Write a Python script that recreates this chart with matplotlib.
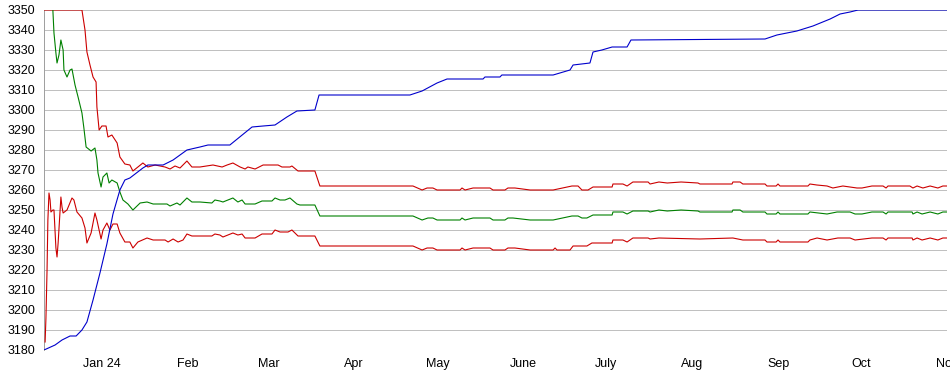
import matplotlib
matplotlib.use("Agg")
import matplotlib.pyplot as plt

# x = days since 11 Dec 2023
month_ticks = [21, 52, 81, 112, 142, 173, 203, 234, 265, 295, 326]
month_labels = ["Jan 24", "Feb", "Mar", "Apr", "May", "June", "July", "Aug", "Sep", "Oct", "Nov"]
y_ticks = list(range(3180, 3351, 10))

blue_x = [0, 4.0, 6.5, 9.4, 11.6, 13.7, 15.5, 17.7, 20.2, 22.7, 24.9, 27.4, 29.2, 31.0, 35.7, 37.5,
          43.0, 46.6, 51.6, 56.3, 59.2, 67.1, 75.1, 79.1, 83.4, 87.7, 91.3, 97.8, 99.3, 132.1, 136.5,
          141.9, 145.5, 158.5, 159.2, 164.6, 165.3, 183.8, 189.9, 191.0, 197.1, 198.2, 201.4, 205.1,
          210.5, 211.9, 260.3, 264.6, 271.8, 277.6, 283.8, 287.4, 291.0, 293.9, 326]
blue_y = [3180, 3182.5, 3185, 3187, 3187, 3190, 3194, 3205, 3218.5, 3233, 3248, 3260, 3265, 3266,
          3271, 3272.5, 3272.5, 3275, 3280, 3281.5, 3282.5, 3282.5, 3291.5, 3292, 3292.5, 3296.5,
          3299.5, 3300, 3307.5, 3307.5, 3309.5, 3313.5, 3315.5, 3315.5, 3316.5, 3316.5, 3317.5,
          3317.5, 3320, 3322.5, 3323.5, 3329, 3330, 3331.5, 3331.5, 3335, 3335.5, 3337.5, 3339.5,
          3342, 3345.5, 3348, 3349, 3350, 3350]

upper_x = [0, 13.7, 14.8, 15.5, 16.6, 17.7, 18.8, 19.1, 19.9, 20.9, 22.4, 23.1, 24.5, 26.4, 27.4,
           29.2, 31.0, 32.1, 35.7, 37.5, 40.1, 43.7, 45.5, 47.3, 49.1, 51.6, 53.4, 56.3, 61.0, 64.3,
           66.1, 68.2, 70.8, 72.6, 73.6, 76.2, 79.1, 84.5, 85.9, 88.8, 89.5, 91.7, 97.8, 99.6, 133.2,
           136.5, 138.3, 140.4, 141.9, 150.2, 150.9, 152.0, 154.9, 161.0, 162.1, 166.4, 167.5, 170.0,
           175.5, 183.8, 190.6, 192.8, 194.2, 196.4, 198.2, 205.1, 205.4, 209.0, 210.5, 212.6, 218.1,
           218.8, 222.0, 225.0, 230.0, 236.1, 236.8, 248.4, 248.7, 251.3, 252.3, 260.3, 261.0, 264.3,
           265.0, 265.7, 275.8, 276.5, 279.0, 282.7, 284.8, 288.4, 293.5, 295.3, 298.9, 302.9, 304.0,
           304.7, 312.6, 313.7, 315.2, 317.3, 319.9, 322.7, 324.5, 326]
upper_y = [3350, 3350, 3340, 3329, 3322.5, 3316.5, 3314, 3301.5, 3290, 3292, 3292, 3286.5, 3287.5,
           3283.5, 3276.5, 3273, 3272.5, 3269.5, 3273.5, 3271.5, 3272.5, 3271.5, 3270.5, 3272, 3271,
           3274.5, 3271.5, 3271.5, 3272.5, 3271.5, 3272.5, 3273.5, 3271.5, 3270.5, 3271.5, 3270.5,
           3272.5, 3272.5, 3271.5, 3271.5, 3272, 3269.5, 3269.5, 3262, 3262, 3260, 3261, 3261, 3260,
           3260, 3261, 3260, 3261, 3261, 3260, 3260, 3261, 3261, 3260, 3260, 3262, 3262, 3260, 3260,
           3261.5, 3261.5, 3263, 3263, 3262, 3264, 3264, 3263, 3264, 3263.5, 3264, 3263.5, 3263, 3263,
           3264, 3264, 3263, 3263, 3262, 3262, 3263, 3262, 3262, 3263, 3262.5, 3262, 3261, 3262, 3261,
           3261, 3262, 3262, 3261, 3262, 3262, 3261, 3262, 3261, 3262, 3261, 3262, 3262]

mid_x = [3.2, 3.6, 4.3, 4.7, 5.4, 6.1, 6.9, 7.2, 8.3, 9.4, 10.1, 11.2, 12.3, 13.7, 14.4, 15.2, 17.0,
         18.4, 19.1, 19.5, 20.6, 21.3, 22.7, 23.5, 24.5, 26.4, 27.4, 28.5, 30.3, 32.1, 34.7, 37.2,
         39.4, 44.4, 45.5, 48.0, 49.1, 51.6, 53.4, 56.3, 60.6, 61.7, 63.5, 64.6, 68.2, 70.0, 71.5,
         72.6, 76.2, 78.7, 82.3, 83.4, 85.2, 87.0, 88.8, 91.3, 92.4, 97.8, 99.6, 133.2, 136.5, 138.6,
         140.4, 141.9, 150.2, 150.9, 152.0, 154.9, 161.0, 162.1, 166.4, 167.5, 169.3, 175.5, 183.8,
         190.6, 192.8, 194.2, 196.0, 198.2, 205.1, 205.4, 209.0, 210.5, 212.6, 218.1, 218.8, 222.0,
         225.0, 230.0, 236.1, 236.8, 248.4, 248.7, 251.3, 252.3, 260.3, 261.0, 264.3, 265.0, 265.7,
         275.8, 276.5, 282.7, 286.3, 291.0, 292.8, 295.3, 298.9, 302.9, 304.0, 304.7, 313.4, 313.7,
         315.2, 317.0, 319.9, 322.7, 324.5, 326]
mid_y = [3350, 3338.5, 3328.5, 3323.5, 3327.5, 3335, 3330, 3320, 3316.5, 3320, 3320.5, 3312.5,
         3306.5, 3298.5, 3291, 3281.5, 3279.5, 3281, 3275, 3268.5, 3261.5, 3266.5, 3268.5, 3263.5,
         3265, 3263.5, 3259, 3255, 3253, 3250, 3253.5, 3254, 3253, 3253, 3252, 3253.5, 3252.5, 3256,
         3254, 3254, 3253.5, 3255, 3254.5, 3254, 3256, 3254, 3255, 3253, 3253, 3254.5, 3254.5, 3256,
         3255, 3255, 3256, 3253, 3252.5, 3252.5, 3247, 3247, 3245, 3246, 3246, 3245, 3245, 3246,
         3245, 3246, 3246, 3245, 3245, 3246, 3246, 3245, 3245, 3247, 3247, 3246, 3246, 3247.5,
         3247.5, 3249, 3249, 3248, 3249.5, 3249.5, 3249, 3250, 3249.5, 3250, 3249.5, 3249, 3249,
         3250, 3250, 3249, 3249, 3248, 3248, 3249, 3248, 3248, 3249, 3248, 3249, 3249, 3248, 3248,
         3249, 3249, 3248, 3249, 3249, 3248, 3249, 3248, 3249, 3248, 3249, 3249]

lower_x = [0.4, 0.7, 1.1, 1.4, 1.8, 2.2, 2.5, 3.2, 3.6, 4.3, 4.7, 5.1, 6.1, 6.5, 6.9, 8.3, 10.1, 10.8,
           11.9, 13.7, 14.8, 15.5, 17.0, 18.4, 19.1, 20.6, 21.3, 22.7, 23.8, 24.9, 26.4, 27.4, 29.2,
           31.0, 32.1, 33.9, 37.2, 39.4, 43.7, 44.8, 46.6, 48.4, 50.2, 51.6, 53.4, 56.3, 60.6, 61.7,
           63.5, 64.6, 68.2, 70.0, 71.5, 72.6, 76.2, 78.7, 82.3, 83.4, 85.2, 88.1, 89.5, 91.7, 97.8,
           99.6, 133.2, 136.5, 138.3, 140.4, 141.9, 150.2, 150.9, 152.0, 154.9, 161.0, 162.1, 166.4,
           167.5, 170.0, 175.5, 183.8, 184.5, 185.2, 189.9, 191.0, 196.0, 197.8, 205.1, 205.4, 209.0,
           210.5, 212.6, 218.1, 218.8, 222.0, 236.8, 248.7, 252.3, 260.3, 261.0, 264.3, 265.0, 265.7,
           275.8, 276.5, 279.1, 282.7, 286.6, 291.0, 292.8, 298.9, 302.9, 304.0, 304.7, 313.4, 313.7,
           315.2, 317.0, 319.9, 322.7, 324.5, 326]
lower_y = [3184, 3196, 3220, 3245, 3258.5, 3255, 3249, 3250, 3250, 3231, 3226.5, 3233.5, 3256.5,
           3251.5, 3248.5, 3250, 3256, 3255, 3249, 3246, 3241, 3233.5, 3238.5, 3248.5, 3245, 3235.5,
           3240, 3243.5, 3240, 3243, 3243, 3238.5, 3234, 3234, 3231, 3234, 3236, 3235, 3235, 3234,
           3235.5, 3234, 3235, 3238, 3237, 3237, 3237, 3238, 3237.5, 3236.5, 3238.5, 3237.5, 3238,
           3236, 3236, 3238, 3238, 3240, 3239, 3239, 3240, 3237, 3237, 3232, 3232, 3230, 3231, 3231,
           3230, 3230, 3231, 3230, 3231, 3231, 3230, 3230, 3231, 3231, 3230, 3230, 3231, 3230, 3230,
           3232, 3232, 3233.5, 3233.5, 3235, 3235, 3234, 3236, 3236, 3235.5, 3236, 3235.5, 3236, 3235,
           3235, 3234, 3234, 3235, 3234, 3234, 3235, 3236, 3235, 3236, 3236, 3235, 3236, 3236, 3235,
           3236, 3236, 3235, 3236, 3235, 3236, 3235, 3236, 3236]

RED = "#cc0000"
GREEN = "#008000"
BLUE = "#0000cc"
GRID = "#c0c0c0"

plt.rcParams["font.family"] = ["Liberation Sans", "DejaVu Sans"]
fig = plt.figure(figsize=(9.5, 3.75), dpi=100)
ax = fig.add_axes([44 / 950, 25 / 375, 903 / 950, 340 / 375])

for yv in y_ticks:
    ax.axhline(yv, color=GRID, lw=0.72, zorder=1, antialiased=False)

ax.plot(upper_x, upper_y, color=RED, lw=0.8, zorder=3)
ax.plot(lower_x, lower_y, color=RED, lw=0.8, zorder=3)
ax.plot(mid_x, mid_y, color=GREEN, lw=0.8, zorder=3)
ax.plot(blue_x, blue_y, color=BLUE, lw=0.8, zorder=4)

ax.set_xlim(0, 326)
ax.set_ylim(3180, 3350)
ax.set_yticks(y_ticks)
ax.set_yticklabels([str(v) for v in y_ticks])
ax.set_xticks(month_ticks)
ax.set_xticklabels(month_labels)
ax.tick_params(axis="both", length=0, labelsize=9, colors="#000000")
ax.tick_params(axis="y", pad=6)
ax.tick_params(axis="x", pad=6)

for s in ["top", "right", "bottom"]:
    ax.spines[s].set_visible(False)
ax.spines["left"].set_color("#a0a0a0")
ax.spines["left"].set_linewidth(0.72)
ax.patch.set_alpha(0)

fig.savefig("out.png", dpi=100)
